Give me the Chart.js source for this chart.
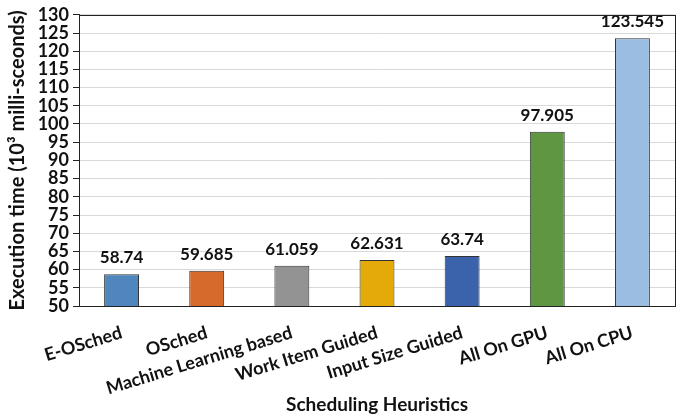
<!DOCTYPE html>
<html>
<head>
<meta charset="utf-8">
<script src="https://cdn.jsdelivr.net/npm/chart.js@4/dist/chart.umd.min.js"></script>
<style>
  html, body { margin: 0; padding: 0; background: #fff; }
  #wrap { width: 677px; height: 420px; }
</style>
</head>
<body>
<div id="wrap"><canvas id="heuristics-chart"></canvas></div>
<script>
// Execution time per scheduling heuristic
// ------------------------------
const heuristicLabels = ["E-OSched", "OSched", "Machine Learning based", "Work Item Guided", "Input Size Guided", "All On GPU", "All On CPU"];
const execTimes = [58.74, 59.685, 61.059, 62.631, 63.74, 97.905, 123.545];
const barColors = ['#4F86BD', '#D46B2C', '#939393', '#E3AA0A', '#3B63AB', '#5F9641', '#9CBDE2'];
const yMin = 50, yMax = 130, yStep = 5;

const fontFamily = "Lato, 'Open Sans', sans-serif";

// value labels above each bar
const valueLabels = {
    id: 'valueLabels',
    afterDatasetsDraw(chart) {
        const ctx = chart.ctx;
        const meta = chart.getDatasetMeta(0);
        ctx.save();
        ctx.font = "bold 17px " + fontFamily;
        ctx.fillStyle = '#111';
        ctx.textAlign = 'center';
        ctx.textBaseline = 'bottom';
        meta.data.forEach(function (bar, i) {
            ctx.fillText(String(execTimes[i]), bar.x, bar.y - 8);
        });
        ctx.restore();
    }
};

// black frame around the plot area
const plotFrame = {
    id: 'plotFrame',
    afterDraw(chart) {
        const a = chart.chartArea;
        const ctx = chart.ctx;
        ctx.save();
        ctx.strokeStyle = '#222';
        ctx.lineWidth = 1;
        ctx.strokeRect(Math.round(a.left) + 0.5, Math.round(a.top) + 0.5,
                       Math.round(a.right - a.left), Math.round(a.bottom - a.top));
        ctx.restore();
    }
};

var ctx = document.getElementById('heuristics-chart');

var chartData = {
    labels: heuristicLabels,
    datasets: [{
        data: execTimes,
        backgroundColor: barColors,
        borderColor: '#333',
        borderWidth: 1,
        barPercentage: 0.41,
        categoryPercentage: 1.0
    }]
};

var chartOptions = {
    responsive: true,
    maintainAspectRatio: false,
    animation: false,
    layout: { padding: { top: 14, right: 2, left: 2, bottom: 2 } },
    plugins: {
        legend: { display: false },
        tooltip: { enabled: false }
    },
    scales: {
        x: {
            // fixed band under the plot for the slanted names and the title
            afterFit: function (scale) { scale.height = 112; },
            grid: { display: false },
            border: { display: true, color: '#222' },
            ticks: {
                color: '#111',
                font: { family: fontFamily, size: 18, weight: 'bold' },
                minRotation: 17,
                maxRotation: 17,
                autoSkip: false,
                padding: 8
            },
            title: {
                display: true,
                text: 'Scheduling Heuristics',
                color: '#111',
                font: { family: fontFamily, size: 19, weight: 'bold' },
                padding: { top: 0, bottom: 2 }
            }
        },
        y: {
            min: yMin,
            max: yMax,
            afterFit: function (scale) { scale.width = 77; },
            grid: { color: '#d9d9d9', tickColor: '#222', tickLength: 6 },
            border: { display: true, color: '#222' },
            ticks: {
                stepSize: yStep,
                autoSkip: false,
                color: '#111',
                padding: 4,
                font: { family: fontFamily, size: 18, weight: 'bold' }
            },
            title: {
                display: true,
                text: 'Execution time (10³ milli-sceonds)',
                color: '#111',
                font: { family: fontFamily, size: 20, weight: 'bold' },
                padding: { top: 4, bottom: 2 }
            }
        }
    }
};

var config = {
    type: 'bar',
    data: chartData,
    options: chartOptions,
    plugins: [valueLabels, plotFrame]
};

var heuristicsChart = new Chart(ctx, config);
</script>
</body>
</html>
